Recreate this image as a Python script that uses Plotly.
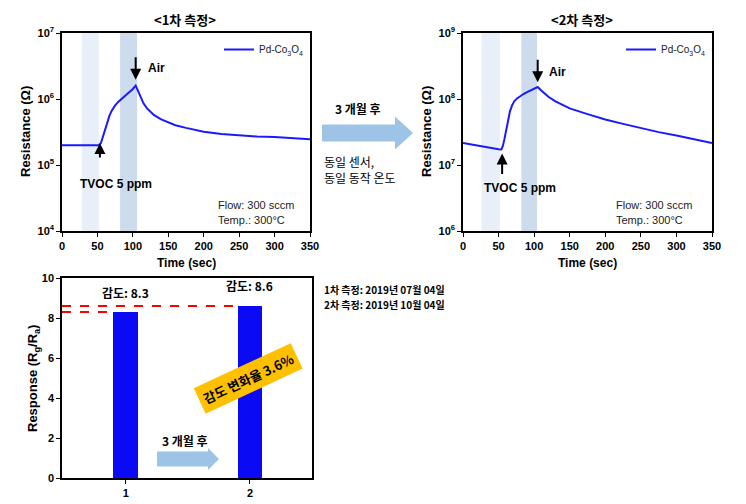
import math
import plotly.graph_objects as go

# ---------------- data ----------------
t1 = [0, 52, 55, 58, 61, 64, 67, 70, 75, 80, 85, 90, 95, 100, 104, 107, 110, 115, 120, 125, 130,
      140, 150, 160, 175, 200, 225, 250, 275, 300, 325, 350]
r1 = [2.0e5, 2.0e5, 2.15e5, 2.8e5, 3.6e5, 4.6e5, 5.6e5, 6.6e5, 8.0e5, 9.2e5, 1.03e6, 1.12e6, 1.25e6,
      1.42e6, 1.6e6, 1.35e6, 1.1e6, 8.6e5, 7.2e5, 6.3e5, 5.7e5, 4.9e5, 4.4e5, 4.0e5, 3.65e5, 3.2e5,
      2.95e5, 2.8e5, 2.7e5, 2.65e5, 2.55e5, 2.45e5]

t2 = [0, 10, 20, 30, 40, 50, 54, 56, 58, 60, 62, 64, 66, 69, 72, 76, 80, 85, 90, 95, 100, 105, 110,
      115, 120, 130, 140, 150, 175, 200, 225, 250, 275, 300, 325, 350]
r2 = [2.15e7, 2.05e7, 1.95e7, 1.87e7, 1.8e7, 1.73e7, 1.72e7, 1.95e7, 2.4e7, 3.0e7, 4.0e7, 5.2e7,
      6.5e7, 8.0e7, 9.2e7, 1.02e8, 1.1e8, 1.19e8, 1.27e8, 1.35e8, 1.45e8, 1.52e8, 1.35e8, 1.2e8,
      1.08e8, 9.2e7, 8.2e7, 7.2e7, 5.9e7, 4.9e7, 4.2e7, 3.6e7, 3.15e7, 2.8e7, 2.45e7, 2.15e7]

bands1 = [(28, 52), (82, 106)]
bands2 = [(26, 52), (82, 104)]

measure = [1, 2]
response = [8.3, 8.6]
resp_labels = ["감도: 8.3", "감도: 8.6"]

time_ticks = [0, 50, 100, 150, 200, 250, 300, 350]
ylog1_ticks = [1e4, 1e5, 1e6, 1e7]
ylog1_text = ["10<sup>4</sup>", "10<sup>5</sup>", "10<sup>6</sup>", "10<sup>7</sup>"]
ylog2_ticks = [1e6, 1e7, 1e8, 1e9]
ylog2_text = ["10<sup>6</sup>", "10<sup>7</sup>", "10<sup>8</sup>", "10<sup>9</sup>"]
resp_ticks = [0, 2, 4, 6, 8, 10]

# the page body has an 8px margin, so the figure covers the window from (8, 8)
OFF = 8
W, H = 746 - OFF, 504 - OFF
FONT = "Liberation Sans, Arial, Noto Sans CJK KR"
KFONT = "Noto Sans CJK KR, Liberation Sans"
BLUE = "#1a1aff"
ARROW_BLUE = "#9dc3e6"


def px(x):
    return (x - OFF) / W


def py(y):
    return 1 - (y - OFF) / H


fig = go.Figure()

fig.add_trace(go.Scatter(x=t1, y=r1, mode="lines", line=dict(color=BLUE, width=2),
                         name="Pd-Co<sub>3</sub>O<sub>4</sub>", xaxis="x", yaxis="y", legend="legend"))
fig.add_trace(go.Scatter(x=t2, y=r2, mode="lines", line=dict(color=BLUE, width=2),
                         name="Pd-Co<sub>3</sub>O<sub>4</sub>", xaxis="x2", yaxis="y2", legend="legend2"))
fig.add_trace(go.Bar(x=measure, y=response, width=0.2, marker=dict(color="#0a0af5", line_width=0),
                     xaxis="x3", yaxis="y3", showlegend=False))

axis_common = dict(showline=True, linecolor="black", linewidth=1.5, mirror=True, ticks="outside",
                   ticklen=4, tickwidth=1.2, tickcolor="black", showgrid=False, zeroline=False,
                   automargin=False,
                   tickfont=dict(family=FONT, size=11, color="black", weight="bold"))

fig.update_layout(
    width=W, height=H, margin=dict(l=0, r=0, t=0, b=0, autoexpand=False),
    paper_bgcolor="white", plot_bgcolor="white",
    xaxis=dict(domain=[px(62), px(310)], range=[0, 350], tickvals=time_ticks, anchor="y", **axis_common),
    yaxis=dict(domain=[py(231), py(33)], type="log", range=[4, 7], tickvals=ylog1_ticks, ticktext=ylog1_text,
               anchor="x", **axis_common),
    xaxis2=dict(domain=[px(463), px(712)], range=[0, 350], tickvals=time_ticks, anchor="y2", **axis_common),
    yaxis2=dict(domain=[py(231), py(33)], type="log", range=[6, 9], tickvals=ylog2_ticks, ticktext=ylog2_text,
                anchor="x2", **axis_common),
    xaxis3=dict(domain=[px(62), px(312)], range=[0.485, 2.5], tickvals=[1, 2], anchor="y3", **axis_common),
    yaxis3=dict(domain=[py(478), py(278)], range=[0, 10], tickvals=resp_ticks, anchor="x3", **axis_common),
    legend=dict(x=px(309), y=py(35), xanchor="right", yanchor="top", bgcolor="rgba(0,0,0,0)",
                font=dict(family=FONT, size=10, color="#222"), itemwidth=30, tracegroupgap=0),
    legend2=dict(x=px(711), y=py(35), xanchor="right", yanchor="top", bgcolor="rgba(0,0,0,0)",
                 font=dict(family=FONT, size=10, color="#222"), itemwidth=30, tracegroupgap=0),
    bargap=0,
)

shapes = []
for (a, b), c in zip(bands1, ["#e8eff8", "#cddced"]):
    shapes.append(dict(type="rect", xref="x", yref="y domain", x0=a, x1=b, y0=0, y1=1,
                       fillcolor=c, line_width=0, layer="below"))
for (a, b), c in zip(bands2, ["#e8eff8", "#cddced"]):
    shapes.append(dict(type="rect", xref="x2", yref="y2 domain", x0=a, x1=b, y0=0, y1=1,
                       fillcolor=c, line_width=0, layer="below"))

# red dashed reference lines
shapes.append(dict(type="line", xref="x3", yref="y3", x0=0.485, x1=measure[0] - 0.1,
                   y0=response[0], y1=response[0], line=dict(color="#ff0000", width=1.8, dash="dash")))
shapes.append(dict(type="line", xref="x3", yref="y3", x0=0.485, x1=measure[1] - 0.1,
                   y0=response[1], y1=response[1], line=dict(color="#ff0000", width=1.8, dash="dash")))


def block_arrow(x0, x1, xh, yc, body_h, head_h):
    path = (f"M {px(x0)} {py(yc - body_h/2)} L {px(xh)} {py(yc - body_h/2)} L {px(xh)} {py(yc - head_h/2)} "
            f"L {px(x1)} {py(yc)} L {px(xh)} {py(yc + head_h/2)} L {px(xh)} {py(yc + body_h/2)} "
            f"L {px(x0)} {py(yc + body_h/2)} Z")
    return dict(type="path", xref="paper", yref="paper", path=path, fillcolor=ARROW_BLUE, line_width=0)


shapes.append(block_arrow(322, 413, 395, 133, 17, 33))
shapes.append(block_arrow(157, 219, 208, 459, 15, 22))
fig.update_layout(shapes=shapes)

ann = []


def text(x, y, s, size=12, family=FONT, xanchor="center", color="black", **kw):
    ann.append(dict(x=px(x), y=py(y), xref="paper", yref="paper", text=s, showarrow=False,
                    xanchor=xanchor, yanchor="middle", font=dict(family=family, size=size, color=color), **kw))


text(185, 19, "<b>&lt;1차 측정&gt;</b>", size=13, family=KFONT)
text(582, 19, "<b>&lt;2차 측정&gt;</b>", size=13, family=KFONT)

# axis titles
text(186, 263, "<b>Time (sec)</b>", size=12)
text(587, 263, "<b>Time (sec)</b>", size=12)
text(25, 132, "<b>Resistance (Ω)</b>", size=13, textangle=-90)
text(426, 132, "<b>Resistance (Ω)</b>", size=13, textangle=-90)
text(33, 378, "<b>Response (R<sub>g</sub>/R<sub>a</sub>)</b>", size=13, textangle=-90)


# Air / TVOC arrows (pixel-offset arrows)
def arrow(xref, yref, x, y, ay):
    ann.append(dict(x=x, y=y, xref=xref, yref=yref, ax=0, ay=ay, text="", showarrow=True,
                    arrowhead=2, arrowsize=1.1, arrowwidth=2, arrowcolor="black"))


arrow("x", "y", 104, math.log10(1.95e6), -24)
arrow("x", "y", 53.5, math.log10(2.15e5), 16)
arrow("x2", "y2", 105, math.log10(1.8e8), -24)
arrow("x2", "y2", 55, math.log10(1.5e7), 22)

text(146, 68, "<b>Air</b>", size=12, xanchor="left")
text(547, 72, "<b>Air</b>", size=12, xanchor="left")
text(116, 184, "<b>TVOC 5 ppm</b>", size=12)
text(520, 188, "<b>TVOC 5 ppm</b>", size=12)

text(216, 205, "Flow: 300 sccm", size=11, xanchor="left", color="#222")
text(216, 220, "Temp.: 300°C", size=11, xanchor="left", color="#222")
text(614, 205, "Flow: 300 sccm", size=11, xanchor="left", color="#222")
text(614, 220, "Temp.: 300°C", size=11, xanchor="left", color="#222")

text(358, 108, "<b>3 개월 후</b>", size=12, family=KFONT)
text(322, 161, "동일 센서,", size=12, family=KFONT, xanchor="left")
text(322, 177, "동일 동작 온도", size=12, family=KFONT, xanchor="left")

text(322, 289, "<b>1차 측정: 2019년 07월 04일</b>", size=10, family=KFONT, xanchor="left")
text(322, 304, "<b>2차 측정: 2019년 10월 04일</b>", size=10, family=KFONT, xanchor="left")

for m, r, lab, dy in zip(measure, response, resp_labels, [0.45, 0.5]):
    ann.append(dict(x=m, y=r + dy, xref="x3", yref="y3", text=f"<b>{lab}</b>", showarrow=False,
                    yanchor="bottom", font=dict(family=KFONT, size=12, color="black")))

text(185, 440, "<b>3 개월 후</b>", size=12, family=KFONT)

text(248, 378, "<b>감도 변화율 3.6%</b>", size=13, family=KFONT,
     textangle=-25, bgcolor="#ffc000", borderpad=4)

fig.update_layout(annotations=ann)

fig.write_html("out.html")
